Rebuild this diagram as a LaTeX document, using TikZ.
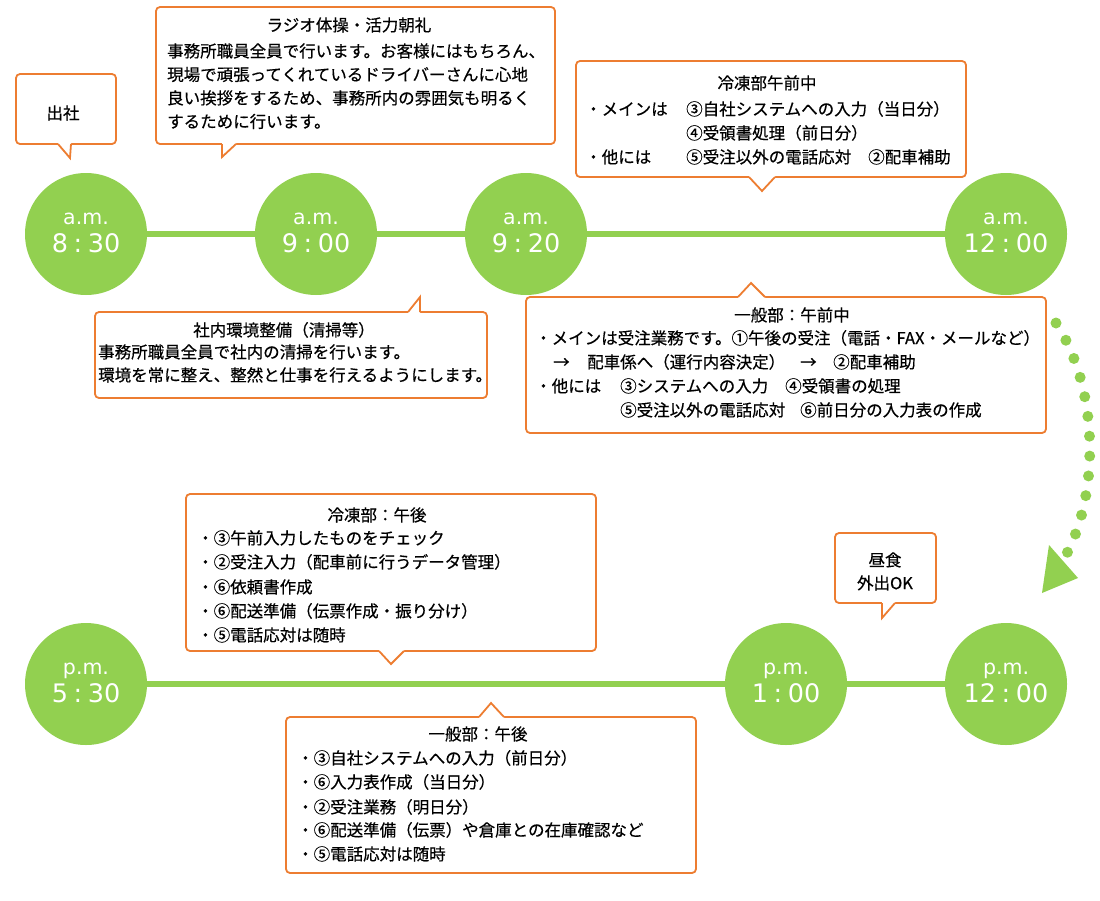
\documentclass[tikz,border=0pt]{standalone}
\usepackage{fontspec}
\setmainfont{Noto Sans CJK JP}[FakeBold=0.45]
\newfontfamily\timefont{DejaVu Sans}
\definecolor{grn}{HTML}{92D050}
\definecolor{org}{HTML}{ED7D31}
\newcommand\tsp{\hspace{0.22em}}
\tikzset{
  circ/.style={circle, fill=grn, minimum size=122pt, inner sep=0pt},
  tline/.style={draw=grn, line width=6pt},
  ampm/.style={text=white, anchor=base, inner sep=0pt, font=\timefont\fontsize{20.5}{24}\selectfont},
  clock/.style={text=white, anchor=base, inner sep=0pt, font=\timefont\fontsize{25.5}{30}\selectfont},
  bubble/.style={draw=org, fill=white, line width=1.8pt, rounded corners=4pt, inner sep=0pt},
  pside/.style={draw=org, line width=1.8pt, line join=miter},
  jt/.style={anchor=west, inner sep=0pt, text height=14.4pt, text depth=2pt, font=\fontsize{16.5}{20}\selectfont},
  jc/.style={jt, anchor=center},
}
\begin{document}
\begin{tikzpicture}[x=1pt, y=-1pt]
\fill[white] (0,0) rectangle (1100,900);
\useasboundingbox (0,0) rectangle (1100,900);

% ---------- circles ----------
\node[circ] (am830) at (86,234) {};
\node[circ] (am900) at (316,234) {};
\node[circ] (am920) at (526,234) {};
\node[circ] (am1200) at (1006,234) {};
\node[circ] (pm530) at (86,684) {};
\node[circ] (pm100) at (786,684) {};
\node[circ] (pm1200) at (1006,684) {};
\draw[tline] (am830) -- (am900);
\draw[tline] (am900) -- (am920);
\draw[tline] (am920) -- (am1200);
\draw[tline] (pm530) -- (pm100);
\draw[tline] (pm100) -- (pm1200);

\node[ampm] (a1) at (86,224) {a.m.};
\node[clock] (c1) at (86,252) {8\tsp:\tsp30};
\node[ampm] (a2) at (316,224) {a.m.};
\node[clock] (c2) at (316,252) {9\tsp:\tsp00};
\node[ampm] (a3) at (526,224) {a.m.};
\node[clock] (c3) at (526,252) {9\tsp:\tsp20};
\node[ampm] (a4) at (1006,224) {a.m.};
\node[clock] (c4) at (1006,252) {12\tsp:\tsp00};
\node[ampm] (a5) at (86,674) {p.m.};
\node[clock] (c5) at (86,702) {5\tsp:\tsp30};
\node[ampm] (a6) at (786,674) {p.m.};
\node[clock] (c6) at (786,702) {1\tsp:\tsp00};
\node[ampm] (a7) at (1006,674) {p.m.};
\node[clock] (c7) at (1006,702) {12\tsp:\tsp00};

% ---------- dotted arrow ----------
\coordinate (da) at (1056,323);
\coordinate (db) at (1062,562);
\draw[grn, line width=11pt, line cap=round, dash pattern=on 0pt off 19.9pt] (da) .. controls (1100,390) and (1100,500) .. (db);
\coordinate (h1) at (1049,545);
\coordinate (h2) at (1078,578);
\coordinate (h3) at (1042,593);
\fill[grn] (h1) -- (h2) -- (h3) -- cycle;

% ---------- B1 出社 ----------
\node[bubble, minimum width=100pt, minimum height=70pt] (b1) at (66,109) {};
\fill[white] (58,142) -- (58,144) -- (70,158) -- (71,144) -- (71,142) -- cycle;
\draw[pside] (58,144) -- (70,158) -- (71,144);
\node[jc] (s1) at (63,113) {出社};

% ---------- B2 ラジオ体操 ----------
\node[bubble, minimum width=399pt, minimum height=137pt] (b2) at (355.5,75.5) {};
\fill[white] (222,142) -- (222,144) -- (222,157) -- (236,144) -- (236,142) -- cycle;
\draw[pside] (222,144) -- (222,157) -- (236,144);
\node[jc] (r0) at (349,25) {ラジオ体操・活力朝礼};
\node[jt] (r1) at (167,51) {事務所職員全員で行います。お客様にはもちろん、};
\node[jt] (r2) at (167,74.5) {現場で頑張ってくれているドライバーさんに心地};
\node[jt] (r3) at (167,98) {良い挨拶をするため、事務所内の雰囲気も明るく};
\node[jt] (r4) at (167,121.5) {するために行います。};

% ---------- B3 冷凍部午前中 ----------
\node[bubble, minimum width=390pt, minimum height=116pt] (b3) at (771,119) {};
\fill[white] (749,175) -- (749,177) -- (762,191) -- (775,177) -- (775,175) -- cycle;
\draw[pside] (749,177) -- (762,191) -- (775,177);
\node[jc] (f0) at (767,83) {冷凍部午前中};
\node[jt] (f1a) at (585,109) {・メインは};
\node[jt] (f1b) at (686,109) {③自社システムへの入力（当日分）};
\node[jt] (f2) at (686,133) {④受領書処理（前日分）};
\node[jt] (f3a) at (585,157) {・他には};
\node[jt] (f3b) at (686,157) {⑤受注以外の電話応対};
\node[jt] (f3c) at (868,157) {②配車補助};

% ---------- B4 社内環境整備 ----------
\node[bubble, minimum width=392pt, minimum height=86pt] (b4) at (291,355) {};
\fill[white] (408,314) -- (408,312) -- (420,297) -- (420,312) -- (420,314) -- cycle;
\draw[pside] (408,312) -- (420,297) -- (420,312);
\node[jc] (k0) at (284,330) {社内環境整備（清掃等）};
\node[jt] (k1) at (98,352) {事務所職員全員で社内の清掃を行います。};
\node[jt] (k2) at (98,375) {環境を常に整え、整然と仕事を行えるようにします。};

% ---------- B5 一般部：午前中 ----------
\node[bubble, minimum width=520pt, minimum height=136pt] (b5) at (786,365) {};
\fill[white] (738,299) -- (738,297) -- (751,283) -- (765,297) -- (765,299) -- cycle;
\draw[pside] (738,297) -- (751,283) -- (765,297);
\node[jc] (g0) at (792,315) {一般部：午前中};
\node[jt] (g1) at (535,338) {・メインは受注業務です。①午後の受注（電話・FAX・メールなど）};
\node[jt] (g2a) at (553,362) {→};
\node[jt] (g2b) at (587,362) {配車係へ（運行内容決定）};
\node[jt] (g2c) at (800,362) {→};
\node[jt] (g2d) at (833,362) {②配車補助};
\node[jt] (g3a) at (535,386) {・他には};
\node[jt] (g3b) at (620,386) {③システムへの入力};
\node[jt] (g3c) at (785,386) {④受領書の処理};
\node[jt] (g4a) at (620,410) {⑤受注以外の電話応対};
\node[jt] (g4b) at (800,410) {⑥前日分の入力表の作成};

% ---------- B6 冷凍部：午後 ----------
\node[bubble, minimum width=410pt, minimum height=157pt] (b6) at (391,572.5) {};
\fill[white] (379,649) -- (379,651) -- (391,664) -- (404,651) -- (404,649) -- cycle;
\draw[pside] (379,651) -- (391,664) -- (404,651);
\node[jc] (h0) at (377,515) {冷凍部：午後};
\node[jt] (h1t) at (197,538) {・③午前入力したものをチェック};
\node[jt] (h2t) at (197,562) {・②受注入力（配車前に行うデータ管理）};
\node[jt] (h3t) at (197,587) {・⑥依頼書作成};
\node[jt] (h4t) at (197,611) {・⑥配送準備（伝票作成・振り分け）};
\node[jt] (h5t) at (197,635) {・⑤電話応対は随時};

% ---------- B7 一般部：午後 ----------
\node[bubble, minimum width=410pt, minimum height=156pt] (b7) at (491,795) {};
\fill[white] (479,719) -- (479,717) -- (491,703) -- (504,717) -- (504,719) -- cycle;
\draw[pside] (479,717) -- (491,703) -- (504,717);
\node[jc] (p0) at (478,734) {一般部：午後};
\node[jt] (p1) at (297,758) {・③自社システムへの入力（前日分）};
\node[jt] (p2) at (297,782) {・⑥入力表作成（当日分）};
\node[jt] (p3) at (297,807) {・②受注業務（明日分）};
\node[jt] (p4) at (297,830) {・⑥配送準備（伝票）や倉庫との在庫確認など};
\node[jt] (p5) at (297,854) {・⑤電話応対は随時};

% ---------- B8 昼食 ----------
\node[bubble, minimum width=101pt, minimum height=70pt] (b8) at (885.5,568) {};
\fill[white] (882,601) -- (882,603) -- (882,618) -- (895,603) -- (895,601) -- cycle;
\draw[pside] (882,603) -- (882,618) -- (895,603);
\node[jc] (l0) at (885,560) {昼食};
\node[jc] (l1) at (885,583) {外出OK};
\end{tikzpicture}
\end{document}
